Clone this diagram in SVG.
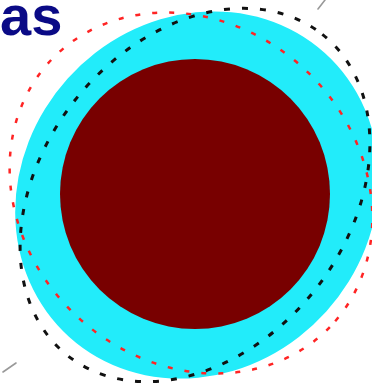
<svg xmlns="http://www.w3.org/2000/svg" width="372" height="383" viewBox="0 0 372 383">
<style>
.lbl{font-family:"Liberation Sans",Arial,sans-serif;font-size:56px;font-weight:bold;fill:#0a0a86}
.tick{stroke:#999;stroke-width:1.6;fill:none;stroke-linecap:round}
</style>
<rect width="372" height="383" fill="#ffffff"/>
<g id="ring">
<ellipse cx="197" cy="195" rx="191" ry="174" transform="rotate(-48 197 195)" fill="#22ecfa"/>
</g>
<g id="core">
<circle cx="195" cy="194" r="135" fill="#780000"/>
</g>
<g id="outlines">
<ellipse cx="195" cy="195" rx="205" ry="153" transform="rotate(-51.6 195 195)" fill="none" stroke="#111" stroke-width="3" stroke-dasharray="6 12"/>
<ellipse cx="191" cy="193" rx="193" ry="168" transform="rotate(44 191 193)" fill="none" stroke="#ff2424" stroke-width="2.5" stroke-dasharray="5 12"/>
</g>
<g id="ticks">
<line class="tick" x1="318" y1="9" x2="325" y2="0"/>
<line class="tick" x1="3" y1="372" x2="16" y2="363"/>
</g>
<text class="lbl" x="0" y="35">as</text>
</svg>
